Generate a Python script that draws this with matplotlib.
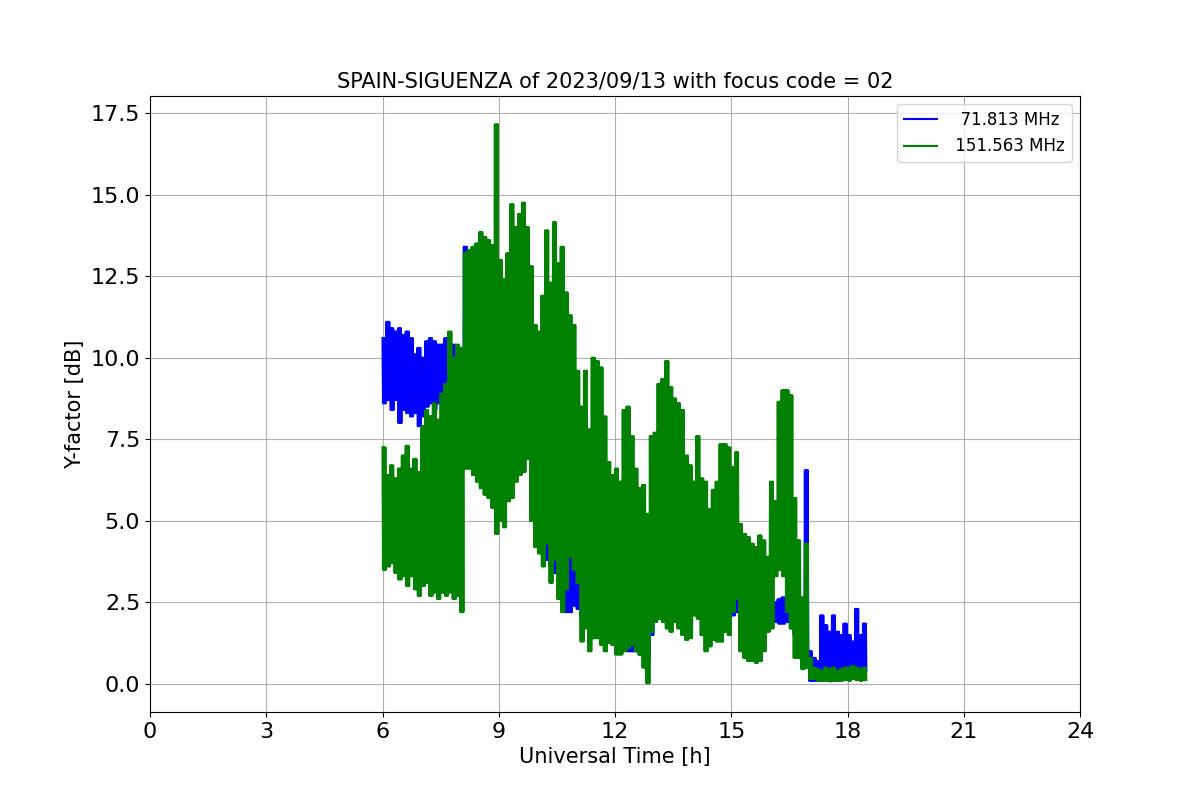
import matplotlib
matplotlib.use("Agg")
import matplotlib.pyplot as plt

# Sample times [h] (each sample window shows the local max and the local min of the noisy signal)
times = [6.0, 6.1, 6.2, 6.3, 6.4, 6.5, 6.6, 6.7, 6.8, 6.9,
         7.0, 7.1, 7.2, 7.3, 7.4, 7.5, 7.6, 7.7, 7.8, 7.9,
         8.0, 8.1, 8.2, 8.3, 8.4, 8.5, 8.6, 8.7, 8.8, 8.9,
         9.0, 9.1, 9.2, 9.3, 9.4, 9.5, 9.6, 9.7, 9.8, 9.9,
         10.0, 10.1, 10.2, 10.3, 10.4, 10.5, 10.6, 10.7, 10.8, 10.9,
         11.0, 11.1, 11.2, 11.3, 11.4, 11.5, 11.6, 11.7, 11.8, 11.9,
         12.0, 12.1, 12.2, 12.3, 12.4, 12.5, 12.6, 12.7, 12.8, 12.9,
         13.0, 13.1, 13.2, 13.3, 13.4, 13.5, 13.6, 13.7, 13.8, 13.9,
         14.0, 14.1, 14.2, 14.3, 14.4, 14.5, 14.6, 14.7, 14.8, 14.9,
         15.0, 15.1, 15.2, 15.3, 15.4, 15.5, 15.6, 15.7, 15.8, 15.9,
         16.0, 16.1, 16.2, 16.3, 16.4, 16.5, 16.6, 16.7, 16.8, 16.9,
         17.0, 17.1, 17.2, 17.3, 17.4, 17.5, 17.6, 17.7, 17.8, 17.9,
         18.0, 18.1, 18.2, 18.3, 18.4]

# 71.813 MHz (blue): local maxima / minima [dB]
blue_hi = [10.6, 11.1, 10.9, 10.8, 10.9, 10.7, 10.8, 10.6, 10.1, 10.3,
           10.0, 10.5, 10.6, 10.5, 10.4, 10.4, 10.6, 10.0, 10.4, 10.2,
           10.3, 13.4, 13.3, 13.0, 12.9, 13.2, 12.8, 12.9, 12.6, 13.0,
           12.8, 12.2, 12.3, 12.5, 12.6, 12.7, 12.5, 12.3, 12.0, 10.8,
           10.5, 11.0, 11.5, 11.0, 11.2, 10.8, 10.5, 10.0, 9.5, 9.0,
           8.5, 7.5, 7.5, 7.0, 7.5, 7.2, 7.0, 6.5, 6.0, 5.5,
           5.5, 5.2, 6.0, 6.0, 5.5, 5.0, 4.5, 4.5, 4.0, 4.2,
           4.5, 4.5, 4.5, 4.5, 4.5, 4.5, 4.2, 4.0, 3.8, 3.6,
           3.4, 3.6, 3.5, 3.4, 3.3, 3.3, 3.4, 3.5, 3.5, 3.4,
           3.2, 3.2, 3.0, 3.0, 3.0, 2.9, 2.9, 2.9, 2.8, 2.7,
           2.6, 2.5, 2.6, 2.65, 2.5, 2.6, 2.4, 2.3, 2.5, 6.55,
           1.0, 0.8, 0.7, 2.1, 1.8, 1.6, 2.1, 1.6, 1.5, 1.85,
           1.5, 1.3, 2.3, 1.5, 1.85]
blue_lo = [8.6, 8.7, 8.4, 8.7, 8.0, 8.4, 8.3, 8.2, 8.3, 7.9,
           8.2, 8.5, 8.6, 8.4, 8.6, 8.6, 8.7, 8.7, 8.8, 8.8,
           8.9, 8.5, 8.4, 8.2, 8.0, 7.8, 7.6, 7.5, 7.4, 7.3,
           7.2, 7.1, 7.0, 7.0, 7.1, 7.0, 7.0, 7.0, 5.0, 4.6,
           4.4, 4.0, 3.8, 3.6, 3.4, 3.0, 2.4, 2.2, 2.2, 2.4,
           2.3, 2.0, 1.9, 1.8, 1.6, 1.5, 1.4, 1.3, 1.3, 1.2,
           1.2, 1.1, 1.1, 1.0, 1.0, 1.0, 0.9, 0.8, 0.7, 1.5,
           2.0, 2.0, 2.0, 1.9, 1.9, 2.0, 1.9, 1.9, 1.8, 1.8,
           2.2, 2.3, 2.2, 2.1, 2.1, 2.1, 2.1, 2.2, 2.2, 2.2,
           2.1, 2.2, 2.0, 1.8, 1.8, 1.8, 1.9, 1.9, 1.9, 1.9,
           1.9, 1.9, 1.85, 1.85, 1.9, 1.85, 1.5, 1.2, 1.0, 1.0,
           0.1, 0.1, 0.1, 0.3, 0.4, 0.35, 0.4, 0.35, 0.3, 0.4,
           0.35, 0.4, 0.3, 0.35, 0.4]

# 151.563 MHz (green): local maxima / minima [dB]
green_hi = [7.25, 6.4, 6.7, 6.3, 6.6, 7.0, 7.3, 6.6, 6.9, 6.5,
            7.9, 8.4, 8.2, 8.6, 8.1, 8.9, 9.2, 10.8, 10.0, 10.4,
            10.3, 13.2, 13.3, 13.4, 13.5, 13.85, 13.7, 13.6, 13.45, 17.15,
            13.0, 12.4, 13.2, 14.7, 14.0, 14.4, 14.75, 14.0, 12.8, 11.0,
            10.8, 11.9, 13.9, 12.3, 14.15, 12.9, 13.4, 12.0, 11.3, 11.0,
            9.6, 8.5, 9.6, 7.8, 10.0, 9.9, 9.7, 8.2, 6.8, 6.4,
            6.6, 6.2, 8.4, 8.5, 7.6, 6.6, 6.0, 6.1, 5.2, 7.6,
            7.7, 9.2, 9.35, 9.9, 9.1, 8.75, 8.6, 8.4, 7.0, 6.7,
            6.2, 7.6, 6.3, 6.2, 5.35, 5.95, 6.2, 7.35, 7.35, 7.25,
            6.65, 7.1, 4.9, 4.6, 4.5, 4.3, 4.2, 4.55, 4.4, 3.9,
            6.2, 5.6, 8.65, 9.0, 9.0, 8.85, 5.7, 4.4, 2.65, 4.3,
            0.8, 0.5, 0.45, 0.4, 0.5, 0.45, 0.5, 0.4, 0.45, 0.5,
            0.5, 0.55, 0.5, 0.45, 0.5]
green_lo = [3.5, 3.6, 3.7, 3.4, 3.2, 3.3, 3.0, 3.3, 2.9, 2.7,
            3.0, 3.1, 2.7, 2.8, 2.6, 2.8, 2.7, 2.8, 2.6, 2.7,
            2.2, 6.6, 6.6, 6.4, 6.2, 6.0, 5.8, 5.7, 5.4, 4.6,
            5.0, 4.8, 5.6, 5.7, 6.2, 6.4, 6.5, 6.9, 5.0, 4.2,
            4.0, 3.6, 4.3, 3.1, 3.8, 2.6, 2.2, 2.9, 3.9, 3.5,
            3.1, 1.3, 1.7, 1.0, 1.4, 1.4, 1.2, 1.0, 1.25, 1.2,
            0.9, 0.9, 1.0, 1.1, 1.2, 1.0, 0.9, 0.5, 0.02, 1.6,
            1.9, 2.0, 1.9, 1.7, 1.6, 1.9, 1.7, 1.5, 1.35, 1.4,
            2.1, 2.0, 1.5, 1.0, 1.15, 1.35, 1.3, 1.3, 1.6, 1.5,
            2.2, 2.6, 1.0, 0.8, 0.7, 0.7, 0.65, 0.7, 1.0, 1.6,
            1.7, 3.3, 3.5, 3.3, 2.2, 1.7, 0.8, 0.8, 0.45, 0.5,
            0.15, 0.15, 0.1, 0.1, 0.1, 0.08, 0.1, 0.1, 0.1, 0.12,
            0.1, 0.15, 0.12, 0.1, 0.12]

labels = ["  71.813 MHz", " 151.563 MHz"]
title = "SPAIN-SIGUENZA of 2023/09/13 with focus code = 02"


def oscillate(ts, hi, lo, step=0.1, cycles=4):
    """Rapid oscillation between the read local max and min inside each window."""
    d = step / (2 * cycles)
    xs, ys = [], []
    for t, h, l in zip(ts, hi, lo):
        for k in range(cycles):
            xs += [t + 2 * k * d, t + (2 * k + 1) * d]
            ys += [h, l]
    return xs, ys


fig, ax = plt.subplots(figsize=(12, 8), dpi=100)
bx, by = oscillate(times, blue_hi, blue_lo)
gx, gy = oscillate(times, green_hi, green_lo)
ax.plot(bx, by, color="blue", lw=1.5, label=labels[0])
ax.plot(gx, gy, color="green", lw=1.5, label=labels[1])

ax.set_xlim(0, 24)
ax.set_ylim(-0.86, 18.02)
ax.set_xticks(range(0, 25, 3))
ax.set_yticks([0.0, 2.5, 5.0, 7.5, 10.0, 12.5, 15.0, 17.5])
ax.tick_params(labelsize=16)
ax.grid(True)
ax.set_xlabel("Universal Time [h]", fontsize=15)
ax.set_ylabel("Y-factor [dB]", fontsize=15)
ax.set_title(title, fontsize=15)
ax.legend(loc="upper right", fontsize=12)

fig.savefig("out.png", dpi=100)
